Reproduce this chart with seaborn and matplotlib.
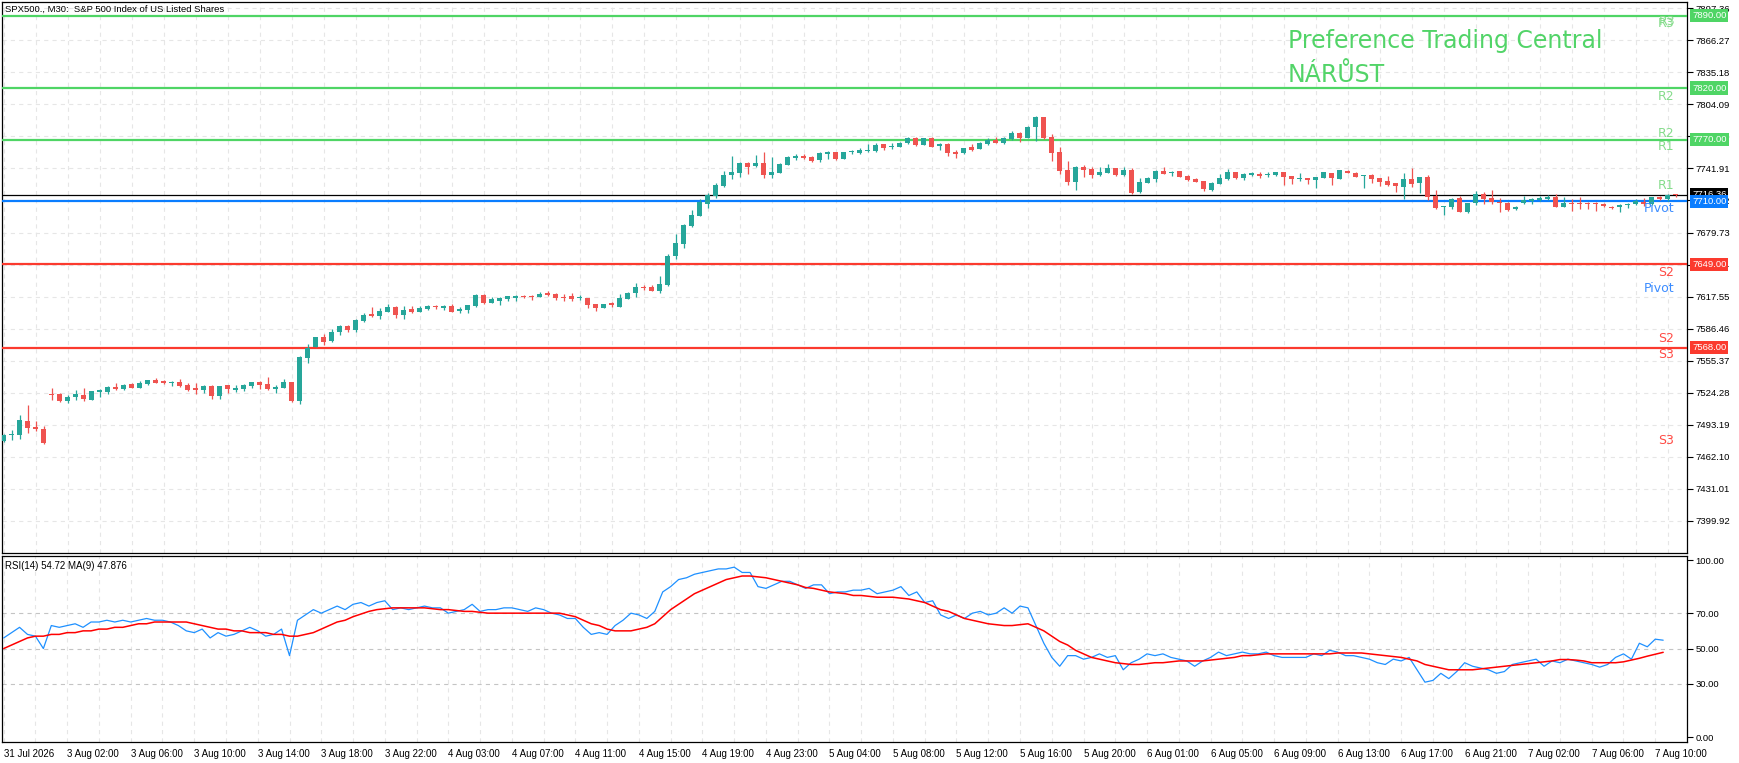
import numpy as np
import pandas as pd
import matplotlib
matplotlib.use("Agg")
import matplotlib.pyplot as plt
import seaborn as sns

# ---------------- data ----------------
opens = [
    7477.5, 7483.5, 7483.4, 7496.7, 7490.9, 7489.0, 7522.9, 7522.9, 7516.1, 7520.3,
    7521.9, 7517.4, 7524.9, 7525.2, 7529.7, 7528.1, 7532.6, 7529.1, 7532.6, 7536.5,
    7535.5, 7534.0, 7534.6, 7531.7, 7528.7, 7526.8, 7531.0, 7521.3, 7531.7, 7527.1,
    7528.1, 7530.4, 7534.6, 7532.6, 7528.1, 7529.1, 7534.6, 7516.4, 7558.2, 7568.5,
    7578.3, 7574.4, 7583.4, 7588.9, 7585.0, 7593.8, 7600.6, 7598.6, 7602.8, 7607.4,
    7599.9, 7605.4, 7602.8, 7605.8, 7607.6, 7606.7, 7608.3, 7603.8, 7604.5, 7608.7,
    7619.0, 7611.6, 7613.2, 7615.5, 7616.4, 7617.9, 7618.1, 7617.4, 7620.6, 7620.0,
    7617.1, 7618.1, 7616.2, 7616.1, 7610.3, 7606.7, 7611.0, 7607.7, 7615.5, 7621.3,
    7626.5, 7626.8, 7622.9, 7628.7, 7656.9, 7668.9, 7686.0, 7696.0, 7707.7, 7715.5,
    7724.8, 7735.8, 7737.8, 7747.5, 7744.6, 7747.2, 7735.8, 7737.8, 7745.6, 7752.4,
    7754.0, 7753.0, 7750.1, 7756.2, 7757.9, 7751.1, 7757.6, 7757.2, 7759.0, 7758.8,
    7765.6, 7762.4, 7763.0, 7766.9, 7771.8, 7765.0, 7771.1, 7763.4, 7766.0, 7758.2,
    7757.2, 7762.7, 7761.1, 7766.0, 7769.5, 7766.3, 7770.8, 7776.3, 7771.8, 7782.1,
    7791.8, 7772.4, 7757.9, 7740.4, 7729.1, 7743.0, 7741.4, 7735.8, 7737.8, 7742.0,
    7735.8, 7740.4, 7719.0, 7728.1, 7732.0, 7739.1, 7737.1, 7739.4, 7734.9, 7731.6,
    7729.4, 7721.3, 7727.1, 7731.6, 7738.1, 7733.0, 7735.9, 7736.8, 7735.7, 7735.5,
    7738.1, 7734.6, 7732.1, 7732.6, 7731.0, 7733.0, 7737.5, 7732.0, 7739.4, 7737.5,
    7734.9, 7735.5, 7732.6, 7729.7, 7727.4, 7724.2, 7731.6, 7728.1, 7733.9, 7715.5,
    7704.1, 7704.8, 7713.2, 7699.9, 7708.0, 7717.1, 7712.9, 7709.0, 7708.7, 7702.5,
    7708.0, 7710.6, 7711.3, 7712.2, 7714.2, 7704.8, 7708.7, 7708.2, 7708.2, 7708.2,
    7707.0, 7704.8, 7704.1, 7706.1, 7707.1, 7709.3, 7707.1, 7714.2, 7711.9, 7717.0,
]
highs = [
    7484.0, 7487.9, 7502.5, 7512.2, 7496.7, 7491.8, 7528.7, 7523.9, 7521.9, 7526.8,
    7528.7, 7526.0, 7528.1, 7531.0, 7533.3, 7532.6, 7533.3, 7535.5, 7536.8, 7538.5,
    7536.8, 7535.5, 7537.5, 7533.3, 7533.3, 7532.0, 7531.7, 7531.0, 7532.0, 7531.3,
    7532.3, 7534.8, 7535.5, 7539.4, 7531.7, 7537.5, 7534.9, 7559.8, 7571.5, 7578.5,
    7580.8, 7585.7, 7589.9, 7589.9, 7596.1, 7601.2, 7607.4, 7606.4, 7610.3, 7608.3,
    7608.3, 7608.3, 7608.0, 7609.3, 7609.3, 7609.6, 7610.3, 7607.7, 7609.5, 7620.0,
    7620.0, 7617.1, 7617.4, 7618.4, 7618.7, 7619.0, 7619.0, 7622.3, 7622.9, 7620.6,
    7619.7, 7621.0, 7618.7, 7616.3, 7610.5, 7610.8, 7612.6, 7620.0, 7622.3, 7631.0,
    7628.7, 7628.7, 7637.5, 7658.8, 7678.2, 7688.0, 7701.5, 7712.2, 7717.7, 7727.4,
    7739.4, 7754.0, 7748.2, 7748.5, 7754.9, 7757.9, 7753.0, 7747.5, 7754.0, 7756.2,
    7755.9, 7754.0, 7757.5, 7758.8, 7758.0, 7758.0, 7760.1, 7761.7, 7766.0, 7766.3,
    7765.8, 7766.3, 7767.6, 7772.4, 7772.1, 7771.3, 7772.1, 7766.9, 7766.9, 7759.5,
    7761.8, 7765.6, 7767.2, 7771.1, 7772.1, 7772.1, 7777.9, 7777.0, 7783.1, 7793.1,
    7792.0, 7775.3, 7762.7, 7749.1, 7743.9, 7744.9, 7743.0, 7743.0, 7745.9, 7742.2,
    7743.0, 7742.0, 7732.3, 7733.6, 7740.4, 7743.0, 7739.7, 7739.7, 7735.9, 7732.6,
    7730.0, 7728.7, 7736.5, 7741.4, 7738.8, 7737.1, 7738.4, 7738.1, 7738.1, 7738.4,
    7738.3, 7734.8, 7737.1, 7732.8, 7733.8, 7738.4, 7737.7, 7740.3, 7740.4, 7738.4,
    7735.7, 7736.2, 7732.8, 7734.2, 7727.6, 7737.8, 7742.3, 7733.8, 7735.2, 7721.0,
    7705.6, 7712.9, 7715.1, 7708.2, 7719.7, 7718.7, 7721.0, 7712.9, 7709.3, 7705.8,
    7714.8, 7713.2, 7714.8, 7716.4, 7717.1, 7713.8, 7711.9, 7714.2, 7709.6, 7709.6,
    7708.7, 7705.4, 7707.4, 7708.7, 7711.9, 7712.9, 7714.4, 7715.5, 7717.1, 7717.5,
]
lows = [
    7476.0, 7478.3, 7479.2, 7485.4, 7487.3, 7474.7, 7517.1, 7515.5, 7514.5, 7517.1,
    7516.4, 7517.0, 7520.3, 7523.2, 7527.1, 7526.8, 7528.7, 7528.7, 7532.0, 7533.3,
    7533.0, 7530.7, 7529.4, 7526.1, 7522.9, 7524.2, 7518.4, 7518.4, 7523.9, 7524.5,
    7526.1, 7529.1, 7528.1, 7526.8, 7524.2, 7528.8, 7515.1, 7513.5, 7553.3, 7568.2,
    7570.8, 7573.4, 7580.5, 7583.4, 7583.4, 7593.1, 7597.7, 7595.7, 7602.6, 7597.0,
    7595.7, 7601.9, 7602.2, 7604.8, 7605.4, 7604.5, 7602.5, 7601.6, 7601.6, 7607.7,
    7610.6, 7611.4, 7609.3, 7613.5, 7613.5, 7616.4, 7614.5, 7617.2, 7618.4, 7614.5,
    7613.5, 7613.5, 7614.2, 7606.7, 7603.8, 7606.2, 7607.7, 7607.5, 7614.8, 7617.4,
    7623.9, 7623.0, 7621.3, 7628.1, 7654.3, 7665.0, 7685.4, 7695.4, 7703.8, 7713.5,
    7724.2, 7731.6, 7733.9, 7736.8, 7743.6, 7732.9, 7732.9, 7737.1, 7744.9, 7749.8,
    7751.4, 7748.5, 7748.1, 7751.1, 7750.4, 7750.7, 7755.6, 7756.2, 7758.2, 7758.2,
    7760.1, 7761.1, 7762.8, 7765.9, 7764.0, 7764.6, 7762.7, 7760.1, 7754.3, 7752.3,
    7755.9, 7759.2, 7760.4, 7765.0, 7766.7, 7765.3, 7769.8, 7767.9, 7771.4, 7768.2,
    7770.8, 7749.1, 7736.2, 7726.1, 7721.0, 7733.6, 7732.9, 7734.6, 7737.1, 7734.6,
    7734.9, 7717.1, 7718.1, 7727.4, 7729.1, 7736.4, 7734.6, 7733.3, 7729.4, 7728.4,
    7720.3, 7720.3, 7726.5, 7731.0, 7732.0, 7731.0, 7734.2, 7732.6, 7733.6, 7734.9,
    7726.1, 7726.8, 7729.7, 7727.1, 7723.2, 7732.3, 7726.1, 7731.3, 7737.1, 7733.3,
    7722.6, 7727.4, 7724.9, 7724.9, 7719.4, 7712.6, 7723.6, 7717.7, 7711.3, 7702.2,
    7696.7, 7702.2, 7699.7, 7699.0, 7706.4, 7707.4, 7707.4, 7699.3, 7700.9, 7701.2,
    7707.4, 7707.1, 7710.6, 7711.3, 7704.1, 7704.1, 7700.9, 7702.8, 7702.8, 7700.9,
    7704.1, 7702.5, 7699.6, 7703.5, 7706.1, 7705.4, 7706.4, 7711.3, 7710.6, 7713.8,
]
closes = [
    7483.0, 7484.0, 7497.7, 7490.2, 7489.0, 7475.7, 7522.3, 7516.1, 7520.3, 7522.9,
    7518.1, 7525.8, 7526.8, 7530.0, 7527.8, 7532.0, 7529.1, 7533.6, 7536.5, 7533.9,
    7533.6, 7534.3, 7531.0, 7527.1, 7527.1, 7531.0, 7521.3, 7530.7, 7527.4, 7528.7,
    7531.7, 7534.6, 7531.7, 7528.1, 7530.0, 7534.6, 7516.1, 7558.8, 7567.2, 7578.3,
    7573.7, 7583.1, 7588.9, 7585.0, 7594.8, 7599.6, 7598.3, 7603.5, 7607.4, 7599.6,
    7604.5, 7602.5, 7606.4, 7608.7, 7607.2, 7608.7, 7602.8, 7605.4, 7609.3, 7619.0,
    7611.6, 7615.1, 7616.1, 7617.7, 7618.4, 7617.5, 7617.4, 7620.0, 7619.4, 7616.4,
    7616.4, 7615.1, 7616.6, 7609.6, 7606.4, 7610.3, 7609.3, 7615.8, 7621.3, 7627.1,
    7626.0, 7623.2, 7629.7, 7656.9, 7669.2, 7687.0, 7696.7, 7709.3, 7716.1, 7725.8,
    7735.5, 7738.4, 7747.2, 7743.6, 7747.2, 7735.8, 7738.4, 7746.5, 7753.0, 7754.3,
    7752.0, 7749.4, 7756.9, 7758.2, 7751.1, 7757.9, 7758.0, 7759.8, 7759.4, 7765.0,
    7761.7, 7764.0, 7766.6, 7771.4, 7765.0, 7771.1, 7763.0, 7766.0, 7757.2, 7756.2,
    7761.7, 7759.8, 7766.6, 7769.2, 7766.9, 7771.1, 7776.3, 7771.8, 7782.1, 7791.8,
    7771.8, 7756.9, 7739.7, 7729.1, 7743.3, 7740.7, 7735.8, 7738.4, 7742.3, 7735.8,
    7740.4, 7718.4, 7728.4, 7732.6, 7739.4, 7736.5, 7738.1, 7733.9, 7730.7, 7728.7,
    7721.9, 7727.8, 7732.6, 7738.1, 7733.0, 7736.5, 7737.5, 7734.6, 7736.1, 7738.1,
    7733.9, 7731.3, 7732.5, 7731.0, 7733.6, 7738.1, 7733.0, 7740.1, 7737.8, 7733.9,
    7735.5, 7732.0, 7729.1, 7726.1, 7724.9, 7731.3, 7727.1, 7733.6, 7714.5, 7703.2,
    7705.4, 7712.2, 7699.9, 7708.0, 7716.8, 7712.6, 7709.0, 7708.0, 7701.2, 7704.5,
    7711.3, 7712.2, 7713.5, 7714.2, 7704.8, 7708.7, 7707.7, 7707.8, 7707.8, 7707.7,
    7705.4, 7703.2, 7706.1, 7707.7, 7710.3, 7707.1, 7714.2, 7711.9, 7716.4, 7716.36,
]
rsi_values = [
    56, 59, 62, 58, 57, 50, 63, 62, 63, 64,
    62, 65, 65, 66, 65, 66, 65, 66, 67, 66,
    66, 65, 63, 60, 59, 61, 56, 59, 57, 58,
    60, 62, 60, 57, 58, 61, 46, 66, 69, 72,
    70, 72, 74, 72, 75, 76, 74, 76, 77, 72,
    73, 72, 73, 74, 73, 73, 70, 71, 72, 75,
    71, 72, 72, 73, 73, 72, 71, 73, 72, 70,
    69, 67, 67, 62, 58, 59, 58, 63, 66, 70,
    69, 67, 71, 82, 85, 89, 90, 92, 93, 94,
    95, 95, 96, 93, 93, 85, 84, 86, 88, 88,
    86, 84, 86, 86, 81, 82, 82, 83, 83, 84,
    81, 82, 83, 85, 80, 82, 76, 77, 69, 67,
    69, 67, 70, 71, 69, 70, 73, 70, 74, 73,
    63, 53, 45, 40, 46, 46, 44, 45, 47, 45,
    46, 38, 42, 44, 47, 46, 47, 45, 44, 43,
    40, 43, 45, 48, 46, 47, 48, 47, 47, 48,
    46, 45, 45, 45, 45, 47, 46, 49, 48, 46,
    46, 45, 44, 42, 41, 44, 43, 45, 38, 31,
    32, 36, 33, 37, 42, 40, 39, 38, 36, 37,
    41, 42, 43, 44, 40, 43, 42, 44, 43, 42,
    41, 39.5, 41, 45, 47, 44, 53, 51, 55.3, 54.72,
]
rsi_ma_values = [
    50, 52, 54, 56, 57, 57, 58, 58, 59, 59,
    60, 60, 61, 61, 62, 62, 63, 64, 64, 65,
    65, 65, 65, 65, 64, 63, 62, 61, 61, 60,
    60, 59, 59, 59, 58, 58, 57, 57, 58, 59,
    61, 63, 65, 66, 68, 69.5, 71, 72, 72.5, 73,
    73, 73, 73, 73, 72.5, 72, 72, 71.5, 71, 71,
    70.5, 70, 70, 70, 70, 70, 70, 70, 70, 70,
    70, 69, 68, 66, 64, 63, 61, 60, 60, 60,
    61, 62, 64, 68, 72, 75, 78, 81, 83, 85,
    87, 89, 90, 91, 91, 90.5, 90, 89, 88, 87,
    86, 84.5, 84, 83, 82, 81.5, 81, 80, 80, 79.5,
    79, 79, 79, 78.5, 78, 77, 76, 74, 72, 71,
    69, 67, 66, 65, 64, 63.5, 63, 63, 63.5, 64,
    62, 60, 57, 54, 52, 49, 47, 45, 44, 43,
    42, 41.5, 41, 41, 41.5, 42, 42, 42.5, 43, 43,
    43, 43, 43.5, 44, 44.5, 45, 46, 46, 46.5, 47,
    47, 47, 47, 47, 47, 47, 47, 47, 47.5, 47.5,
    47.5, 47.5, 47, 46.5, 46, 45.5, 45, 44, 43, 41,
    40, 39, 38, 38, 38, 38, 38.5, 39, 39.5, 40,
    40.5, 41, 41.5, 42, 42.5, 43, 43.8, 43.8, 43.5, 43,
    42, 42, 42, 42, 42.5, 43.5, 44.5, 45.7, 46.8, 47.876,
]
time_labels = [
    "31 Jul 2026", "3 Aug 02:00", "3 Aug 06:00", "3 Aug 10:00", "3 Aug 14:00",
    "3 Aug 18:00", "3 Aug 22:00", "4 Aug 03:00", "4 Aug 07:00", "4 Aug 11:00",
    "4 Aug 15:00", "4 Aug 19:00", "4 Aug 23:00", "5 Aug 04:00", "5 Aug 08:00",
    "5 Aug 12:00", "5 Aug 16:00", "5 Aug 20:00", "6 Aug 01:00", "6 Aug 05:00",
    "6 Aug 09:00", "6 Aug 13:00", "6 Aug 17:00", "6 Aug 21:00", "7 Aug 02:00",
    "7 Aug 06:00", "7 Aug 10:00",
]
price_ticks = [7897.36, 7866.27, 7835.18, 7804.09, 7773.00, 7741.91, 7710.82, 7679.73,
               7648.64, 7617.55, 7586.46, 7555.37, 7524.28, 7493.19, 7462.10, 7431.01, 7399.92]
price_tick_labels = ["7897.36", "7866.27", "7835.18", "7804.09", "7773.00", "7741.91",
                     "7710.82", "7679.73", "7648.64", "7617.55", "7586.46", "7555.37",
                     "7524.28", "7493.19", "7462.10", "7431.01", "7399.92"]
rsi_ticks = [100, 70, 50, 30, 0]
rsi_tick_labels = ["100.00", "70.00", "50.00", "30.00", "0.00"]

level_prices = [7890.0, 7820.0, 7770.0, 7710.0, 7649.0, 7568.0]
level_names = ["7890.00", "7820.00", "7770.00", "7710.00", "7649.00", "7568.00"]
current_price = 7716.36
current_label = "7716.36"

pivot_texts = ["R3", "R3", "R2", "R2", "R1", "R1", "Pivot", "S2", "Pivot", "S2", "S3", "S3"]
pivot_text_prices = [7883, 7885, 7812, 7776, 7763, 7725, 7703, 7641, 7625, 7577, 7561, 7478]

title_text = "SPX500., M30:  S&P 500 Index of US Listed Shares"
rsi_text = "RSI(14) 54.72 MA(9) 47.876"
brand_line1 = "Preference Trading Central"
brand_line2 = "NÁRŮST"

# ---------------- style ----------------
GREEN_C = "#26a69a"
RED_C = "#ef5350"
LV_GREEN = "#4fd565"
LV_BLUE = "#0a7dff"
LV_RED = "#fb3a2e"
level_colors = [LV_GREEN, LV_GREEN, LV_GREEN, LV_BLUE, LV_RED, LV_RED]
pivot_colors = {"R": "#86dc8c", "P": "#3b8cff", "S": "#ff4b45"}
GRID = "#e6e6e6"
DASH = (0, (3.0, 3.0))

sns.set_theme(style="white")
plt.rcParams['font.family'] = ['Liberation Sans', 'DejaVu Sans']
plt.rcParams['lines.scale_dashes'] = False

W, H = 1740, 763
fig = plt.figure(figsize=(W / 100, H / 100), dpi=100)
fig.patch.set_facecolor("white")


def rect(l, t, r, b):
    return [l / W, 1 - b / H, (r - l) / W, (b - t) / H]


ax = fig.add_axes(rect(2, 2, 1687, 553))
ax2 = fig.add_axes(rect(2, 556, 1687, 742))

n = len(closes)
x = np.arange(n)
o = np.array(opens)
hi = np.array(highs)
lo = np.array(lows)
c = np.array(closes)
up = c > o
col = np.where(up, GREEN_C, RED_C)

for a in (ax, ax2):
    a.set_facecolor("white")
    for s in a.spines.values():
        s.set_color("black")
        s.set_linewidth(0.9)

# ---- main price panel ----
ax.vlines(x, lo, hi, colors=col, linewidth=0.9, zorder=4)
body = np.maximum(np.abs(c - o), 0.9)
ax.bar(x, body, bottom=np.minimum(o, c), width=0.64, color=col, linewidth=0, zorder=5)

for lv, lc in zip(level_prices, level_colors):
    ax.axhline(lv, color=lc, lw=1.6, zorder=3)
ax.axhline(current_price, color="black", lw=0.9, zorder=3)

ax.set_xlim(-0.21, 210.4)
ax.set_ylim(7368.6, 7903.5)
ax.set_xticks(np.arange(0, 212, 4))
ax.tick_params(axis="x", length=0, labelbottom=False)
ax.yaxis.tick_right()
ax.set_yticks(price_ticks)
ax.set_yticklabels(price_tick_labels)
ax.tick_params(axis="y", direction="out", length=4, width=0.8, pad=2,
               labelsize=6.8, colors="black")
ax.grid(True, color=GRID, linestyle=DASH, linewidth=0.8, zorder=0)
ax.set_axisbelow(True)

# current-price box first, so the blue pivot box sits over it as in the reference
box_items = [(current_price, current_label, "black", 9)] + [
    (lv, lab, bc, 10) for lv, lab, bc in zip(level_prices, level_names, level_colors)]
for lv, lab, bc, zo in box_items:
    ax.annotate(lab, xy=(1, lv), xycoords=ax.get_yaxis_transform(),
                xytext=(5, 0), textcoords="offset pixels", ha="left", va="center",
                fontsize=6.8, color="white",
                bbox=dict(boxstyle="square,pad=0.22", fc=bc, ec="none"),
                annotation_clip=False, zorder=zo)

for k, (t, p) in enumerate(zip(pivot_texts, pivot_text_prices)):
    dx = 0.15 if k == 1 else 0.0
    ax.text(208.8 + dx, p, t, ha="right", va="center", fontsize=9,
            color=pivot_colors[t[0]], zorder=6, family=["DejaVu Sans"])

# ---- RSI panel ----
df = pd.DataFrame({"bar": x, "rsi": rsi_values, "ma": rsi_ma_values})
for lv in (30, 50, 70):
    ax2.axhline(lv, color="#c4c4c4", linestyle=DASH, linewidth=0.8, zorder=1)
sns.lineplot(data=df, x="bar", y="rsi", ax=ax2, color="#1e90ff", linewidth=0.9,
             legend=False, zorder=3)
sns.lineplot(data=df, x="bar", y="ma", ax=ax2, color="#ff0000", linewidth=1.1,
             legend=False, zorder=4)
ax2.set_xlabel("")
ax2.set_ylabel("")
ax2.set_xlim(-0.21, 210.4)
ax2.set_ylim(-2.8, 102.3)
ax2.yaxis.tick_right()
ax2.set_yticks(rsi_ticks)
ax2.set_yticklabels(rsi_tick_labels)
ax2.tick_params(axis="y", direction="out", length=4, width=0.8, pad=2,
                labelsize=6.8, colors="black")
ax2.set_xticks(np.arange(0, 8 * len(time_labels), 8))
ax2.set_xticklabels(time_labels)
ax2.set_xticks(np.arange(4, 8 * len(time_labels), 8), minor=True)
for t in ax2.get_xticklabels():
    t.set_ha("left")
ax2.tick_params(axis="x", which="major", direction="out", length=4, width=0.8,
                pad=1, labelsize=7, colors="black")
ax2.tick_params(axis="x", which="minor", length=0)
ax2.grid(True, axis="x", which="both", color=GRID, linestyle=DASH, linewidth=0.8)
ax2.grid(False, axis="y")
ax2.set_axisbelow(True)

# ---- texts ----
fig.text(5 / W, 1 - 9 / H, title_text, fontsize=6.8, va="center", ha="left", color="black")
fig.text(5 / W, 1 - 566 / H, rsi_text, fontsize=7, va="center", ha="left", color="black")
fig.text(1288 / W, 1 - 48.3 / H, brand_line1, fontsize=17, va="baseline", ha="left",
         color="#52d468", family=["DejaVu Sans"])
fig.text(1288 / W, 1 - 81.7 / H, brand_line2, fontsize=17, va="baseline", ha="left",
         color="#52d468", family=["DejaVu Sans"])

fig.savefig("out.png", dpi=100, facecolor="white")
